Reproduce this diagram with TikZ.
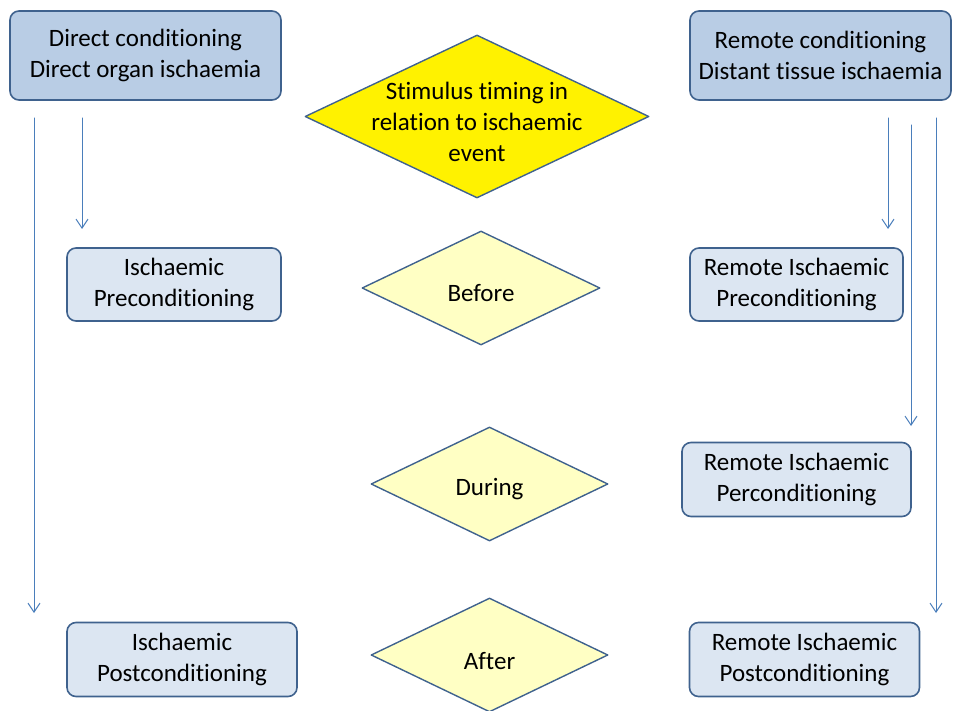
\documentclass[tikz,border=0pt]{standalone}
\usepackage{fontspec}
\setmainfont[Ligatures=NoCommon]{Carlito}
\usepackage{tikz}
\usetikzlibrary{shapes.geometric}
\usetikzlibrary{arrows.meta}

\definecolor{boxdark}{HTML}{B9CDE5}
\definecolor{boxlight}{HTML}{DCE6F2}
\definecolor{boxline}{HTML}{3F628E}
\definecolor{flowblue}{HTML}{4A7EBB}
\definecolor{paleyellow}{HTML}{FFFFC4}

\tikzset{
  txt/.style={align=center,inner sep=0pt,font=\fontsize{25}{31}\selectfont},
  condbox/.style={txt,draw=boxline,line width=1.6pt,rounded corners=9pt},
  timebox/.style={diamond,draw=boxline,line width=1.4pt,inner sep=0pt},
  flow/.style={-{Straight Barb[length=9pt,width=12pt]},color=flowblue,line width=1pt}
}

\begin{document}
\begin{tikzpicture}[line cap=round,line join=round,x=1pt,y=-1pt]
\useasboundingbox (0,0) rectangle (953,711);

% top row
\node[condbox,fill=boxdark,minimum width=271pt,minimum height=89pt] (direct) at (145.5,55.5) {Direct conditioning\\Direct organ ischaemia};
\node[condbox,fill=boxdark,minimum width=261pt,minimum height=89pt] (remote) at (820.5,55.5) {Remote conditioning\\Distant tissue ischaemia};
\node[timebox,fill=yellow,minimum width=344pt,minimum height=163pt] (stim) at (477,116.5) {};
\node[txt] (stimt) at (477,122) {Stimulus timing in\\relation to ischaemic\\event};

% before
\node[condbox,fill=boxlight,minimum width=214pt,minimum height=73pt] (ipre) at (174,284.5) {Ischaemic\\Preconditioning};
\node[timebox,fill=paleyellow,minimum width=238pt,minimum height=114pt] (before) at (481,288) {};
\node[txt] (beforet) at (481,293) {Before};
\node[condbox,fill=boxlight,minimum width=213pt,minimum height=73pt] (ripre) at (796.5,284.5) {Remote Ischaemic\\Preconditioning};

% during
\node[timebox,fill=paleyellow,minimum width=237pt,minimum height=114pt] (during) at (489.5,484) {};
\node[txt] (duringt) at (489.5,489) {During};
\node[condbox,fill=boxlight,minimum width=229pt,minimum height=74pt] (riper) at (796.5,479.5) {Remote Ischaemic\\Perconditioning};

% after
\node[condbox,fill=boxlight,minimum width=230pt,minimum height=74pt] (ipost) at (182,659.5) {Ischaemic\\Postconditioning};
\node[timebox,fill=paleyellow,minimum width=237pt,minimum height=114pt] (after) at (489.5,655) {};
\node[txt] (aftert) at (489.5,661) {After};
\node[condbox,fill=boxlight,minimum width=230pt,minimum height=74pt] (ripost) at (804.5,659.5) {Remote Ischaemic\\Postconditioning};

% arrows
\coordinate (dirA) at (34,118);   \coordinate (dirAend) at (34,613);
\coordinate (dirB) at (82,118);   \coordinate (dirBend) at (82,229);
\coordinate (remA) at (888,118);  \coordinate (remAend) at (888,229);
\coordinate (remB) at (911,125);  \coordinate (remBend) at (911,426);
\coordinate (remC) at (936,118);  \coordinate (remCend) at (936,613);
\draw[flow] (dirA) -- (dirAend);
\draw[flow] (dirB) -- (dirBend);
\draw[flow] (remA) -- (remAend);
\draw[flow] (remB) -- (remBend);
\draw[flow] (remC) -- (remCend);
\end{tikzpicture}
\end{document}
